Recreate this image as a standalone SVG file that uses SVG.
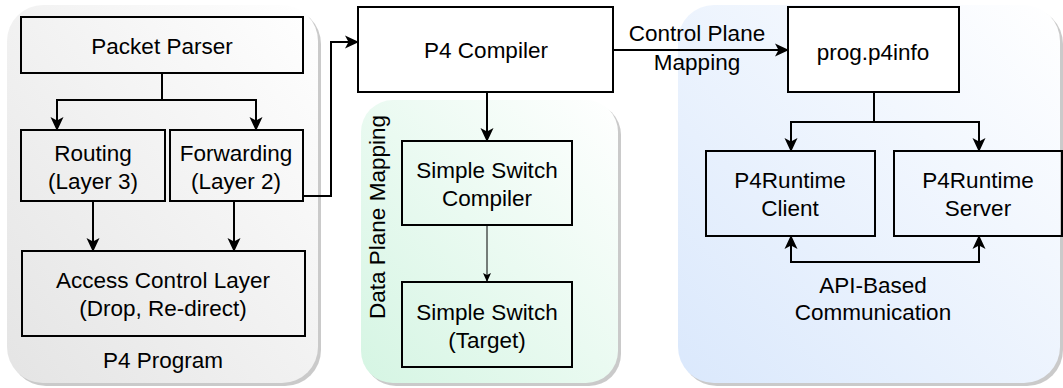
<svg xmlns="http://www.w3.org/2000/svg" width="1063" height="388" viewBox="0 0 1063 388">
<defs>
<style>
text{font-family:"Liberation Sans",Arial,Helvetica,sans-serif;font-size:22.5px;fill:#000;text-anchor:middle;dominant-baseline:central}
.box{fill:none;stroke:#000;stroke-width:2}
.wbox{fill:#fff;stroke:#000;stroke-width:2}
.e{fill:none;stroke:#000;stroke-width:2}
.thin{fill:none;stroke:#000;stroke-width:1}
.shadow{fill:#b3b3b3;opacity:.7}
</style>
<linearGradient id="gGray" x1="0" y1="1" x2="1" y2="0"><stop offset="0" stop-color="#e4e4e4"/><stop offset="1" stop-color="#ffffff"/></linearGradient>
<linearGradient id="gGreen" x1="0" y1="1" x2="1" y2="0"><stop offset="0" stop-color="#d5f5e3"/><stop offset="1" stop-color="#ffffff"/></linearGradient>
<linearGradient id="gBlue" x1="0" y1="1" x2="1" y2="0"><stop offset="0" stop-color="#dae8fc"/><stop offset="1" stop-color="#ffffff"/></linearGradient>
<marker id="arr" markerUnits="userSpaceOnUse" markerWidth="15" markerHeight="15" refX="13" refY="7.5" orient="auto" viewBox="0 0 15 15"><path d="M0,1 L14,7.5 L0,14 L3.5,7.5 z" fill="#000"/></marker>
<marker id="arrS" markerUnits="userSpaceOnUse" markerWidth="15" markerHeight="15" refX="13" refY="7.5" orient="auto-start-reverse" viewBox="0 0 15 15"><path d="M0,1 L14,7.5 L0,14 L3.5,7.5 z" fill="#000"/></marker>
<marker id="arrT" markerUnits="userSpaceOnUse" markerWidth="10" markerHeight="10" refX="9" refY="5" orient="auto" viewBox="0 0 10 10"><path d="M0,1 L9,5 L0,9 L2,5 z" fill="#000"/></marker>
</defs>

<g id="containers">
<g id="p4program">
<rect class="shadow" x="10" y="8" width="311" height="378" rx="36"/>
<rect x="7" y="5" width="311" height="378" rx="36" fill="url(#gGray)"/>
<text x="163" y="360">P4 Program</text>
</g>
<g id="dataplane">
<rect class="shadow" x="364" y="103" width="257" height="283" rx="32"/>
<rect x="361" y="100" width="257" height="283" rx="32" fill="url(#gGreen)"/>
<text transform="translate(377,217) rotate(-90)" x="0" y="0">Data Plane Mapping</text>
</g>
<g id="controlplane">
<rect class="shadow" x="681" y="8" width="382" height="378" rx="36"/>
<rect x="678" y="5" width="382" height="378" rx="36" fill="url(#gBlue)"/>
</g>
</g>

<g id="connectors">
<path class="e" d="M162,73 V100 H57 V130" marker-end="url(#arr)"/>
<path class="e" d="M162,100 H256 V130" marker-end="url(#arr)"/>
<path class="e" d="M93,201 V251" marker-end="url(#arr)"/>
<path class="e" d="M234,201 V251" marker-end="url(#arr)"/>
<path class="e" d="M303,196 H331 V42 H358" marker-end="url(#arr)"/>
<path class="e" d="M487,92 V141" marker-end="url(#arr)"/>
<path class="thin" d="M487,225 V282" marker-end="url(#arrT)"/>
<path class="e" d="M613,50 H788" marker-end="url(#arr)"/>
<text x="697" y="33">Control Plane</text>
<text x="697" y="62">Mapping</text>
<path class="e" d="M874,92 V122 H791 V151" marker-end="url(#arr)"/>
<path class="e" d="M874,122 H979 V151" marker-end="url(#arr)"/>
<path class="e" d="M791,236 V262 H979 V236" marker-start="url(#arrS)" marker-end="url(#arr)"/>
<text x="873" y="285">API-Based</text>
<text x="873" y="312">Communication</text>
</g>

<g id="packet-parser">
<rect class="box" x="21" y="17" width="282" height="56"/>
<text x="162" y="46">Packet Parser</text>
</g>
<g id="routing">
<rect class="box" x="21" y="130" width="144" height="71"/>
<text x="93" y="153">Routing</text>
<text x="93" y="181">(Layer 3)</text>
</g>
<g id="forwarding">
<rect class="box" x="170" y="130" width="133" height="71"/>
<text x="236" y="153">Forwarding</text>
<text x="236" y="181">(Layer 2)</text>
</g>
<g id="access-control">
<rect class="box" x="22" y="251" width="283" height="85"/>
<text x="163" y="280">Access Control Layer</text>
<text x="163" y="308">(Drop, Re-direct)</text>
</g>
<g id="p4-compiler">
<rect class="wbox" x="358" y="7" width="255" height="85"/>
<text x="486" y="50">P4 Compiler</text>
</g>
<g id="ss-compiler">
<rect class="box" x="402" y="141" width="170" height="84"/>
<text x="487" y="170">Simple Switch</text>
<text x="487" y="198">Compiler</text>
</g>
<g id="ss-target">
<rect class="box" x="402" y="282" width="170" height="85"/>
<text x="487" y="312">Simple Switch</text>
<text x="487" y="340">(Target)</text>
</g>
<g id="p4info">
<rect class="wbox" x="788" y="7" width="171" height="85"/>
<text x="873" y="52">prog.p4info</text>
</g>
<g id="rt-client">
<rect class="box" x="706" y="151" width="169" height="85"/>
<text x="790" y="180">P4Runtime</text>
<text x="790" y="208">Client</text>
</g>
<g id="rt-server">
<rect class="box" x="894" y="151" width="168" height="85"/>
<text x="978" y="180">P4Runtime</text>
<text x="978" y="208">Server</text>
</g>
</svg>
